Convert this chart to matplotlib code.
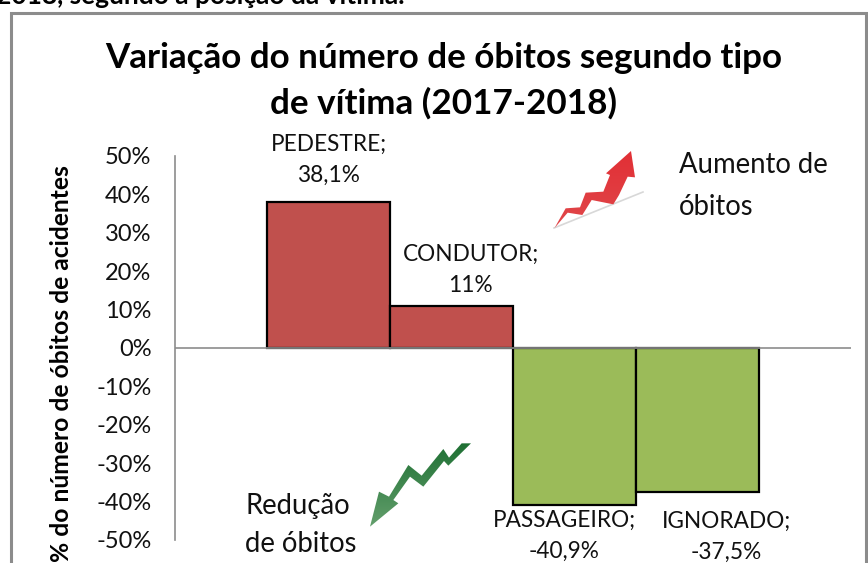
import numpy as np
import matplotlib
matplotlib.use("Agg")
import matplotlib.pyplot as plt
from matplotlib.patches import Polygon, Rectangle

plt.rcParams['font.family'] = ['Lato', 'DejaVu Sans']

W, H = 868, 563

categorias = ["PEDESTRE", "CONDUTOR", "PASSAGEIRO", "IGNORADO"]
valores = [38.1, 11.0, -40.9, -37.5]
rotulos = ["38,1%", "11%", "-40,9%", "-37,5%"]
cores = ["#c0504d", "#c0504d", "#9bbb59", "#9bbb59"]
ticks = [-50, -40, -30, -20, -10, 0, 10, 20, 30, 40, 50]

# deslocamento dos rotulos em pixels, a partir do topo/base da barra
offs = [(0, 42), (19, 36), (-10, -31), (29, -45)]

seta_verm = [(28,250),(62,190),(105,187),(122,143),(175,140),(195,90),(183,85),
             (258,18),(270,97),(248,95),(222,150),(205,178),(140,165),(112,210),(68,203)]
seta_verde = [(15,275),(42,170),(72,185),(130,90),(170,122),(235,42),(252,68),(290,25),
              (318,25),(250,92),(237,78),(175,155),(135,125),(85,195),(100,205)]

fig = plt.figure(figsize=(W/100, H/100), dpi=100)

# camada em pixels para moldura, textos soltos e setas
bg = fig.add_axes([0, 0, 1, 1], zorder=0)
bg.set_xlim(0, W)
bg.set_ylim(H, 0)
bg.axis("off")
bg.add_patch(Rectangle((10.5, 12.5), 855, 600, fc="white", ec="#8c8c8c", lw=2.2))
bg.text(405, 4.5, "2018, segundo a posição da vítima.", fontsize=19, fontweight="bold",
        ha="right", va="baseline", color="black")

x0, x1, y0, y1 = 175, 851, 156, 540
ax = fig.add_axes([x0/W, 1 - y1/H, (x1-x0)/W, (y1-y0)/H], zorder=1)
ax.patch.set_alpha(0)
ax.set_xlim(-1.25, 4.25)
ax.set_ylim(-50, 50)
xs = np.arange(len(valores)) + 0.0
ax.bar(xs, valores, width=1.0, color=cores, edgecolor="black", linewidth=1.6)
for s in ["top", "right", "bottom"]:
    ax.spines[s].set_visible(False)
ax.spines["left"].set_color("#8c8c8c")
ax.spines["left"].set_linewidth(1.2)
ax.axhline(0, color="#8c8c8c", lw=1.2, zorder=3)
ax.set_xticks([])
ax.set_yticks(ticks)
ax.set_yticklabels([f"{t}%" for t in ticks], fontsize=17, color="#111111")
ax.tick_params(axis="y", length=0, pad=17)

for i in range(len(valores)):
    ax.annotate(f"{categorias[i]};\n{rotulos[i]}", (xs[i], valores[i]),
                xytext=(offs[i][0]*0.72, offs[i][1]*0.72), textcoords="offset points",
                ha="center", va="center", fontsize=16.3, linespacing=1.6, color="#111111")

bg2 = fig.add_axes([0, 0, 1, 1], zorder=2)
bg2.set_xlim(0, W)
bg2.set_ylim(H, 0)
bg2.axis("off")
bg2.patch.set_alpha(0)

bg2.text(444, 58, "Variação do número de óbitos segundo tipo", fontsize=25.2, fontweight="bold",
         ha="center", va="center")
bg2.text(444, 103, "de vítima (2017-2018)", fontsize=25.2, fontweight="bold", ha="center", va="center")
bg2.text(62, 165, "% do número de óbitos de acidentes", rotation=90, fontsize=17.7, fontweight="bold",
         ha="center", va="top")
bg2.text(679, 165, "Aumento de", fontsize=19.8, ha="left", va="center", color="#111111")
bg2.text(679, 207, "óbitos", fontsize=19.8, ha="left", va="center", color="#111111")
bg2.text(245, 506, "Redução", fontsize=19.8, ha="left", va="center", color="#111111")
bg2.text(245, 544, "de óbitos", fontsize=19.8, ha="left", va="center", color="#111111")

# sombra da seta vermelha
bg2.plot([554, 643], [228, 192], color="#d8d8d8", lw=1.2)

def seta(pts, ox, oy, c1, c2):
    p = np.array(pts, dtype=float) / 3
    p[:, 0] += ox
    p[:, 1] += oy
    poly = Polygon(p, closed=True, fc="none", ec="none")
    bg2.add_patch(poly)
    grad = np.linspace(0, 1, 64).reshape(-1, 1, 1)
    rgb = np.array(matplotlib.colors.to_rgb(c1))*(1-grad) + np.array(matplotlib.colors.to_rgb(c2))*grad
    im = bg2.imshow(rgb, extent=(p[:,0].min(), p[:,0].max(), p[:,1].max(), p[:,1].min()),
                    aspect="auto", zorder=4)
    im.set_clip_path(poly)

seta(seta_verm, 545, 145, "#e22f35", "#e0474a")
seta(seta_verde, 365, 435, "#1f7034", "#639f6c")
bg2.set_xlim(0, W)
bg2.set_ylim(H, 0)

fig.savefig("out.png", dpi=100)
